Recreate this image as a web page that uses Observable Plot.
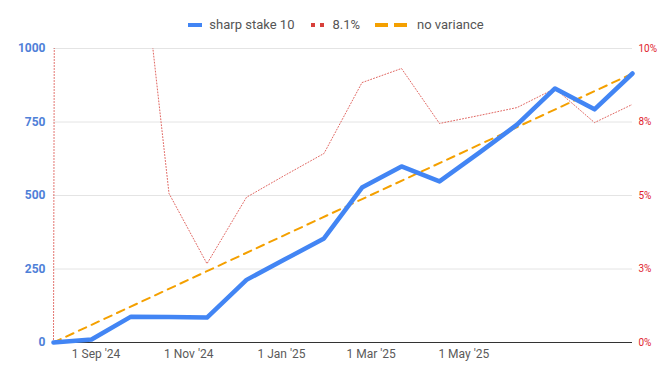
<!DOCTYPE html>
<html>
<head>
<meta charset="utf-8">
<script src="https://cdn.jsdelivr.net/npm/d3@7"></script>
<script src="https://cdn.jsdelivr.net/npm/@observablehq/plot@0.6"></script>
<style>
  html, body { margin: 0; padding: 0; background: #fff; }
  body { width: 672px; height: 380px; overflow: hidden; font-family: Roboto, "Noto Sans", sans-serif; }
  .legend { height: 36px; box-sizing: border-box; padding-top: 14px; display: flex; justify-content: center; align-items: center; font-size: 13px; color: #555; line-height: 16px; }
  .legend .item { display: flex; align-items: center; }
  .legend svg { display: block; }
  #chart svg { display: block; }
</style>
</head>
<body>
<div class="legend" id="legend"></div>
<div id="chart"></div>
<script>
// ---- data ----
const dates = ["2024-08-04","2024-08-29","2024-09-24","2024-10-19","2024-11-13","2024-12-09","2025-01-03","2025-01-29","2025-02-23","2025-03-21","2025-04-15","2025-05-11","2025-06-05","2025-06-30","2025-07-26","2025-08-20"];
const profit = [0, 10, 88, 87, 85, 213, 282, 354, 527, 599, 548, 645, 741, 864, 793, 915];
const roiPct = [0, 500, 16.7, 5.07, 2.68, 4.94, 5.68, 6.43, 8.84, 9.32, 7.45, 7.72, 7.99, 8.64, 7.48, 8.1];
const noVarianceDates = ["2024-08-04", "2025-08-20"];
const noVarianceValues = [0, 915];
const seriesNames = ["sharp stake 10", "8.1%", "no variance"];
const leftTicks = [0, 250, 500, 750, 1000];
const leftTickLabels = ["0", "250", "500", "750", "1000"];
const rightTickLabels = ["0%", "3%", "5%", "8%", "10%"];
const xTickDates = ["2024-09-01", "2024-11-01", "2025-01-01", "2025-03-01", "2025-05-01"];
const xTickLabels = ["1 Sep '24", "1 Nov '24", "1 Jan '25", "1 Mar '25", "1 May '25"];

const BLUE = "#4285f4", RED = "#d8403a", ORANGE = "#f4a000";

const mainRows = dates.map((d, i) => ({date: new Date(d), profit: profit[i], roi: roiPct[i]}));
const nvRows = noVarianceDates.map((d, i) => ({date: new Date(d), value: noVarianceValues[i]}));
const xTicks = xTickDates.map(d => new Date(d));

// ---- legend ----
const legend = document.getElementById("legend");
const swatches = [
  `<svg width="14" height="6"><rect x="0" y="1" width="14" height="4" fill="${BLUE}"/></svg>`,
  `<svg width="14" height="6"><rect x="0" y="1" width="4" height="4" fill="${RED}"/><rect x="9" y="1" width="4" height="4" fill="${RED}"/></svg>`,
  `<svg width="33" height="6"><rect x="0" y="1" width="13" height="4" fill="${ORANGE}"/><rect x="19" y="1" width="13" height="4" fill="${ORANGE}"/></svg>`
];
const gaps = ["0", "17px", "15px"];
seriesNames.forEach((name, i) => {
  const item = document.createElement("div");
  item.className = "item";
  item.style.marginLeft = gaps[i];
  item.innerHTML = swatches[i] + `<span style="margin-left:${i === 2 ? 9 : 7}px">${name}</span>`;
  legend.appendChild(item);
});

// ---- chart ----
const chart = Plot.plot({
  width: 672,
  height: 344,
  marginTop: 12,
  marginBottom: 38,
  marginLeft: 53,
  marginRight: 40,
  style: {fontFamily: "Roboto, sans-serif", background: "#fff"},
  x: {type: "utc", domain: [mainRows[0].date, mainRows[mainRows.length - 1].date]},
  y: {domain: [0, 1000]},
  marks: [
    Plot.gridY(leftTicks.slice(1), {stroke: "#e4e4e4", strokeOpacity: 1}),
    Plot.ruleY([0], {stroke: "#333", strokeWidth: 1}),
    Plot.lineY(mainRows, {x: "date", y: d => d.roi * 100, stroke: RED, strokeWidth: 1, strokeDasharray: "1,2", strokeOpacity: 0.8, clip: true}),
    Plot.lineY(nvRows, {x: "date", y: "value", stroke: ORANGE, strokeWidth: 2, strokeDasharray: "8,6"}),
    Plot.lineY(mainRows, {x: "date", y: "profit", stroke: BLUE, strokeWidth: 4.5, strokeLinejoin: "round"}),
    Plot.axisY({anchor: "left", ticks: leftTicks, tickSize: 0, tickPadding: 8, fontSize: 12, fontWeight: "bold", fill: "#4f80d8", label: null,
      tickFormat: d => leftTickLabels[leftTicks.indexOf(d)]}),
    Plot.axisY({anchor: "right", ticks: leftTicks, tickSize: 0, tickPadding: 6, fontSize: 10, fill: "#e0222c", label: null,
      tickFormat: d => rightTickLabels[leftTicks.indexOf(d)]}),
    Plot.axisX({ticks: xTicks, tickSize: 0, tickPadding: 7, fontSize: 12, fill: "#5a5a5a", label: null,
      tickFormat: d => xTickLabels[xTicks.findIndex(t => +t === +d)]})
  ]
});
document.getElementById("chart").appendChild(chart);
</script>
</body>
</html>
